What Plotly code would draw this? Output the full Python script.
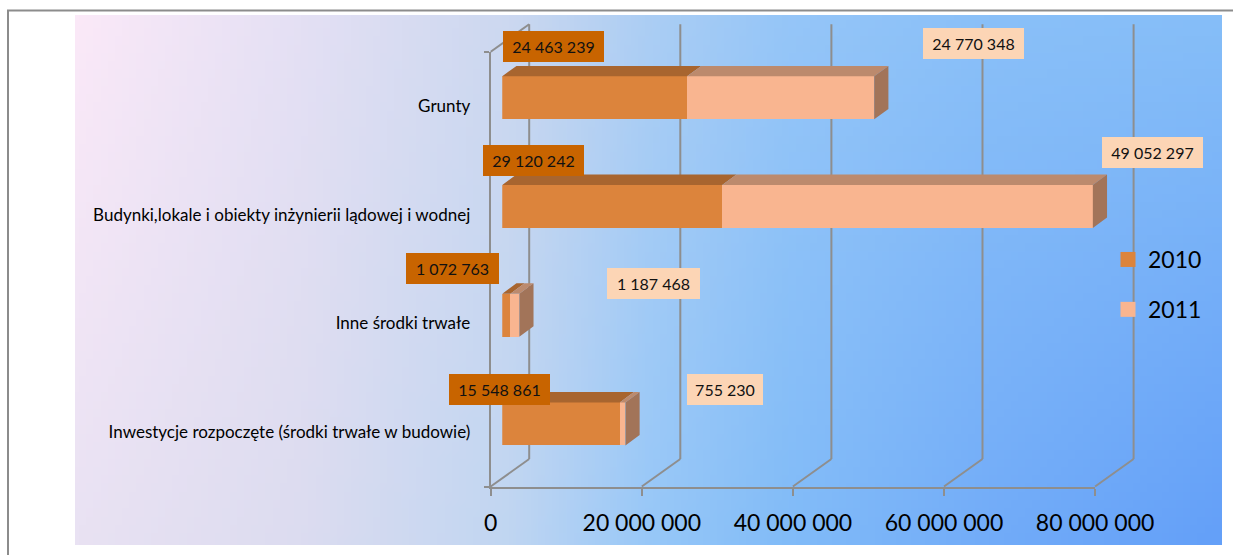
import base64
import struct
import zlib

import numpy as np
import plotly.graph_objects as go

# ---------------- data ----------------
categories = [
    "Grunty",
    "Budynki,lokale i obiekty inżynierii lądowej i wodnej",
    "Inne środki trwałe",
    "Inwestycje rozpoczęte (środki trwałe w budowie)",
]
values_2010 = [24463239, 29120242, 1072763, 15548861]
values_2011 = [24770348, 49052297, 1187468, 755230]
series_names = ["2010", "2011"]
x_tick_values = [0, 20000000, 40000000, 60000000, 80000000]


def fmt(v):
    return f"{v:,}".replace(",", " ")


# ---------------- style / geometry ----------------
W, H = 1233, 555
FONT = "Lato"
S = 151.1 / 20e6          # px per value unit
X0 = 490.7                # px of value 0 on the front plane
FLOOR = 486.5             # px of the front floor line
CAT = 108.7               # px per category
DX, DY = 38.5, 27.5       # wall depth offset in px
BAR_DEPTH0 = 0.3          # bars start at 30% of depth
BAR_DDX, BAR_DDY = 14.2, 10.4
BAR_W = 43 / CAT

C2010, C2011 = "#DC843C", "#F9B590"
C2010_TOP, C2011_TOP = "#A8652F", "#BC8A6D"
C2011_SIDE = "#A27459"
LBL2010_BG, LBL2011_BG = "#C86400", "#FCD5B5"
GRID = "#8E8E8E"

lbl2010_dx = [1, -19, -96, -53]
lbl2010_dy = [51.5, 46, 47, 34.4]
lbl2011_dx = [49, 9, 88, 62]
lbl2011_dy = [54.3, 54.1, 31.7, 34.4]


def xdom(p0, p1):
    return [p0 / W, p1 / W]


def ydom(ptop, pbot):
    return [1 - pbot / H, 1 - ptop / H]


def cat_px(u, floor):
    return floor - CAT * (u + 0.5)


n = len(categories)
pos = [n - 1 - i for i in range(n)]   # first category on top

# ---------------- background gradient image ----------------
top_stops = [(0.00, (251, 233, 248)), (0.20, (228, 224, 244)), (0.38, (204, 216, 240)),
             (0.50, (172, 206, 244)), (0.62, (150, 198, 248)), (0.80, (138, 192, 248)),
             (1.00, (134, 190, 248))]
bot_stops = [(0.00, (233, 226, 243)), (0.20, (220, 220, 240)), (0.38, (192, 214, 242)),
             (0.50, (152, 200, 248)), (0.62, (130, 188, 248)), (0.80, (114, 172, 248)),
             (1.00, (100, 160, 248))]


def row_colors(stops, fx):
    xs = [s[0] for s in stops]
    return np.stack([np.interp(fx, xs, [s[1][k] for s in stops]) for k in range(3)], axis=-1)


gw, gh = 160, 64
fx = np.linspace(0, 1, gw)
top = row_colors(top_stops, fx)
bot = row_colors(bot_stops, fx)
fy = np.linspace(0, 1, gh)[:, None, None]
img = np.clip((1 - fy) * top[None] + fy * bot[None], 0, 255).astype(np.uint8)


def png_bytes(arr):
    h, w, _ = arr.shape
    raw = b"".join(b"\x00" + arr[r].tobytes() for r in range(h))

    def chunk(t, d):
        return struct.pack(">I", len(d)) + t + d + struct.pack(">I", zlib.crc32(t + d) & 0xFFFFFFFF)

    return (b"\x89PNG\r\n\x1a\n" + chunk(b"IHDR", struct.pack(">IIBBBBB", w, h, 8, 2, 0, 0, 0))
            + chunk(b"IDAT", zlib.compress(raw, 9)) + chunk(b"IEND", b""))


bg_src = "data:image/png;base64," + base64.b64encode(png_bytes(img)).decode()

fig = go.Figure()

# ---------------- subplot 1: 3-D frame (back wall + floor) ----------------
Dv = DX / S
Dc = DY / CAT
fr_x = [-1.5e6, 86.5e6]
fr_y = [-0.7, n - 0.5 + Dc + 0.2]
lx, ly = [], []
for v in x_tick_values:
    lx += [v, v + Dv, None, v + Dv, v + Dv, None]
    ly += [-0.5, -0.5 + Dc, None, -0.5 + Dc, n - 0.5 + Dc, None]
lx += [0, Dv, None]
ly += [n - 0.5, n - 0.5 + Dc, None]
fig.add_trace(go.Scatter(x=lx, y=ly, mode="lines", line=dict(color=GRID, width=2),
                         hoverinfo="skip", showlegend=False, xaxis="x", yaxis="y"))

# ---------------- subplot 2: front axes ----------------
fig.add_trace(go.Scatter(x=[None], y=[None], mode="markers", showlegend=False,
                         hoverinfo="skip", xaxis="x2", yaxis="y2"))

# ---------------- subplot 3: bars ----------------
fig.add_trace(go.Bar(y=pos, x=values_2010, orientation="h", width=BAR_W,
                     marker=dict(color=C2010, line=dict(width=0)), name=series_names[0],
                     showlegend=False, xaxis="x3", yaxis="y3"))
fig.add_trace(go.Bar(y=pos, x=values_2011, orientation="h", width=BAR_W,
                     marker=dict(color=C2011, line=dict(width=0)), name=series_names[1],
                     showlegend=False, xaxis="x3", yaxis="y3"))

bdx = BAR_DDX / S
bdy = BAR_DDY / CAT
t10x, t10y, t11x, t11y, sx, sy = [], [], [], [], [], []
for p, a, b in zip(pos, values_2010, values_2011):
    yt, yb = p + BAR_W / 2, p - BAR_W / 2
    t10x += [0, a, a + bdx, bdx, 0, None]
    t10y += [yt, yt, yt + bdy, yt + bdy, yt, None]
    t11x += [a, a + b, a + b + bdx, a + bdx, a, None]
    t11y += [yt, yt, yt + bdy, yt + bdy, yt, None]
    e = a + b
    sx += [e, e + bdx, e + bdx, e, e, None]
    sy += [yb, yb + bdy, yt + bdy, yt, yb, None]
for xs, ys, col in [(t10x, t10y, C2010_TOP), (t11x, t11y, C2011_TOP), (sx, sy, C2011_SIDE)]:
    fig.add_trace(go.Scatter(x=xs, y=ys, mode="lines", fill="toself", fillcolor=col,
                             line=dict(width=0, color=col), hoverinfo="skip",
                             showlegend=False, xaxis="x3", yaxis="y3"))

# legend proxies
for i, (nm, col) in enumerate(zip(series_names, [C2010, C2011])):
    fig.add_trace(go.Scatter(x=[None], y=[None], mode="markers", name=nm,
                             marker=dict(symbol="square", size=15, color=col),
                             legendgroup=nm, xaxis="x3", yaxis="y3"))

# ---------------- data labels ----------------
annotations = []
for i, p in enumerate(pos):
    for val, base_x, dx, dy, bg in [
        (values_2010[i], 0, lbl2010_dx[i], lbl2010_dy[i], LBL2010_BG),
        (values_2011[i], values_2010[i] + values_2011[i], lbl2011_dx[i], lbl2011_dy[i], LBL2011_BG),
    ]:
        txt = fmt(val)
        annotations.append(dict(
            x=base_x, y=p, xref="x3", yref="y3", text=txt, showarrow=False,
            xanchor="left", yanchor="middle", xshift=dx, yshift=dy,
            bgcolor=bg, borderpad=0, borderwidth=0,
            width=round(8.2 * len(txt) + 19), height=31,
            font=dict(family=FONT, size=16, color="#111111"),
        ))

# ---------------- layout ----------------
bx0 = X0 + BAR_DEPTH0 * DX
bfloor = FLOOR - BAR_DEPTH0 * DY
bar_xr = [0, 84e6]

fig.update_layout(
    width=W, height=H,
    autosize=False,
    margin=dict(l=0, r=0, t=0, b=0, pad=0, autoexpand=False),
    paper_bgcolor="white",
    plot_bgcolor="rgba(0,0,0,0)",
    barmode="stack",
    font=dict(family=FONT, color="#000000"),
    images=[dict(source=bg_src, xref="paper", yref="paper", x=75 / W, y=1 - 15 / H,
                 sizex=(1222 - 75) / W, sizey=(545 - 15) / H, sizing="stretch",
                 xanchor="left", yanchor="top", layer="below")],
    shapes=[
        dict(type="line", xref="paper", yref="paper", x0=8 / W, x1=8 / W, y0=1 - 10.5 / H, y1=0,
             line=dict(color="#8C8C8C", width=2)),
        dict(type="line", xref="paper", yref="paper", x0=7 / W, x1=1, y0=1 - 10.5 / H, y1=1 - 10.5 / H,
             line=dict(color="#8C8C8C", width=2)),
    ],
    xaxis=dict(domain=xdom(X0 + fr_x[0] * S, X0 + fr_x[1] * S), range=fr_x, visible=False,
               anchor="y"),
    yaxis=dict(domain=ydom(cat_px(fr_y[1], FLOOR), cat_px(fr_y[0], FLOOR)), range=fr_y,
               visible=False, anchor="x"),
    xaxis2=dict(domain=xdom(X0, X0 + x_tick_values[-1] * S), range=[0, x_tick_values[-1]],
                anchor="y2", showgrid=False, zeroline=False, showline=True, linecolor=GRID,
                linewidth=2, ticks="outside", ticklen=7, tickwidth=2, tickcolor=GRID,
                tickmode="array", tickvals=x_tick_values, ticktext=[fmt(v) for v in x_tick_values],
                tickfont=dict(family=FONT, size=23, color="#000000"), ticklabelstandoff=8),
    yaxis2=dict(domain=ydom(cat_px(n - 0.5, FLOOR), FLOOR), range=[-0.5, n - 0.5], anchor="x2",
                showgrid=False, zeroline=False, showline=True, linecolor=GRID, linewidth=2,
                ticks="", tickmode="array", tickvals=pos, ticktext=categories,
                tickfont=dict(family=FONT, size=17, color="#000000"), ticklabelstandoff=15,
                minor=dict(tickmode="array", tickvals=[k - 0.5 for k in range(n + 1)],
                           ticks="outside", ticklen=5, tickwidth=2, tickcolor=GRID)),
    xaxis3=dict(domain=xdom(bx0, bx0 + bar_xr[1] * S), range=bar_xr, visible=False, anchor="y3"),
    yaxis3=dict(domain=ydom(cat_px(n - 0.5, bfloor), bfloor), range=[-0.5, n - 0.5],
                visible=False, anchor="x3"),
    legend=dict(x=1108 / W, y=1 - 284.5 / H, xanchor="left", yanchor="middle",
                bgcolor="rgba(0,0,0,0)", font=dict(family=FONT, size=23, color="#000000"),
                traceorder="grouped", tracegroupgap=17, itemclick=False),
    annotations=annotations,
    showlegend=True,
)

fig.write_html("out.html", config={"displayModeBar": False},
               post_script="document.body.style.margin='0';")
